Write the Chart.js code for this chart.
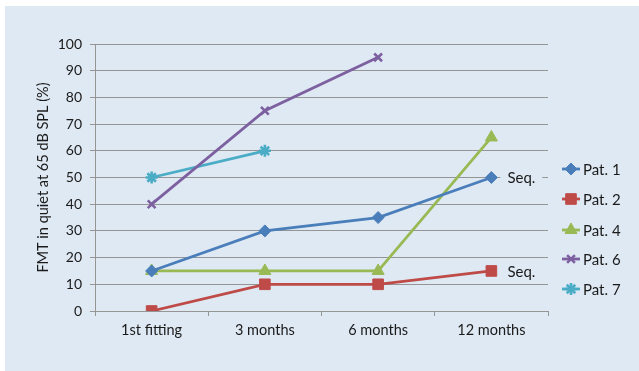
<!DOCTYPE html>
<html>
<head>
<meta charset="utf-8">
<script src="https://cdn.jsdelivr.net/npm/chart.js@4.4.1/dist/chart.umd.min.js"></script>
<style>
html,body{margin:0;padding:0;background:#ffffff;}
#wrap{position:absolute;left:5px;top:6px;width:634px;height:365px;background:#DFE9F3;}
canvas{display:block;}
</style>
</head>
<body>
<div id="wrap"><canvas id="c" width="634" height="365"></canvas></div>
<script>
const categories = ["1st fitting", "3 months", "6 months", "12 months"];
const seriesNames = ["Pat. 1", "Pat. 2", "Pat. 4", "Pat. 6", "Pat. 7"];
const pat1 = [15, 30, 35, 50];
const pat2 = [0, 10, 10, 15];
const pat4 = [15, 15, 15, 65];
const pat6 = [40, 75, 95, null];
const pat7 = [50, 60, null, null];
const seqLabels = [{series: 0, index: 3, text: "Seq."}, {series: 1, index: 3, text: "Seq."}];
const yTitle = "FMT in quiet at 65 dB SPL (%)";

const colors = ["#4A7EBB", "#BE4B48", "#98B954", "#7D60A0", "#4BACC6"];
const styles = ["rectRot", "rect", "triangle", "crossRot", "star"];
const radii = [6, 7.5, 7, 5.5, 6];
const values = [pat1, pat2, pat4, pat6, pat7];
const BG = "#DFE9F3";
const FONT = "Lato, 'Open Sans', sans-serif";
const GRID = "#959595";

const datasets = values.map((v, i) => ({
  label: seriesNames[i],
  data: v,
  borderColor: colors[i],
  backgroundColor: colors[i],
  pointBackgroundColor: colors[i],
  pointBorderColor: colors[i],
  pointStyle: styles[i],
  pointRadius: radii[i],
  pointBorderWidth: (i >= 3) ? 2.6 : 1,
  borderWidth: 2.8,
  tension: 0,
  spanGaps: false
}));

const overlay = {
  id: "overlay",
  afterDatasetsDraw(chart) {
    const ctx = chart.ctx;
    ctx.save();
    ctx.font = "15px " + FONT;
    ctx.textBaseline = "middle";
    ctx.textAlign = "left";
    seqLabels.forEach(l => {
      const el = chart.getDatasetMeta(l.series).data[l.index];
      const x = el.x + 16, y = el.y + 1;
      const w = ctx.measureText(l.text).width;
      ctx.fillStyle = BG;
      ctx.fillRect(x - 7, y - 12, w + 14, 23);
      ctx.fillStyle = "#1a1a1a";
      ctx.fillText(l.text, x, y);
    });
    const lx0 = 557, lx1 = 575, tx = 578;
    const ys = [163, 193, 224, 253, 283];
    chart.data.datasets.forEach((ds, i) => {
      const y = ys[i];
      ctx.strokeStyle = ds.borderColor;
      ctx.lineWidth = 2.8;
      ctx.beginPath(); ctx.moveTo(lx0, y); ctx.lineTo(lx1, y); ctx.stroke();
      ctx.lineWidth = ds.pointBorderWidth;
      ctx.fillStyle = ds.backgroundColor;
      Chart.helpers.drawPoint(ctx, {pointStyle: ds.pointStyle, radius: ds.pointRadius, borderWidth: ds.pointBorderWidth, rotation: 0}, (lx0 + lx1) / 2, y);
      ctx.fillStyle = "#1a1a1a";
      ctx.font = "15px " + FONT;
      ctx.textAlign = "left";
      ctx.textBaseline = "middle";
      ctx.fillText(ds.label, tx, y + 1);
    });
    ctx.restore();
  }
};

new Chart(document.getElementById("c"), {
  type: "line",
  data: {labels: categories, datasets},
  options: {
    responsive: false,
    animation: false,
    layout: {padding: {left: 30, top: 38, right: 91, bottom: 0}},
    plugins: {legend: {display: false}, tooltip: {enabled: false}},
    scales: {
      x: {
        offset: true,
        grid: {display: true, drawOnChartArea: false, offset: true, color: GRID, tickLength: 5, lineWidth: 1},
        border: {display: true, color: GRID, width: 1},
        ticks: {color: "#1a1a1a", font: {family: FONT, size: 14.5}, padding: 6, maxRotation: 0},
        afterFit(s) { s.height = 60; }
      },
      y: {
        min: 0, max: 100,
        ticks: {stepSize: 10, color: "#1a1a1a", font: {family: FONT, size: 14}, padding: 8},
        grid: {color: GRID, lineWidth: 1, tickLength: 5},
        border: {display: true, color: GRID, width: 1},
        title: {display: true, text: yTitle, color: "#1a1a1a", font: {family: FONT, size: 14.5}, padding: 0},
        afterFit(s) { s.width = 60; }
      }
    }
  },
  plugins: [overlay]
});
</script>
</body>
</html>
